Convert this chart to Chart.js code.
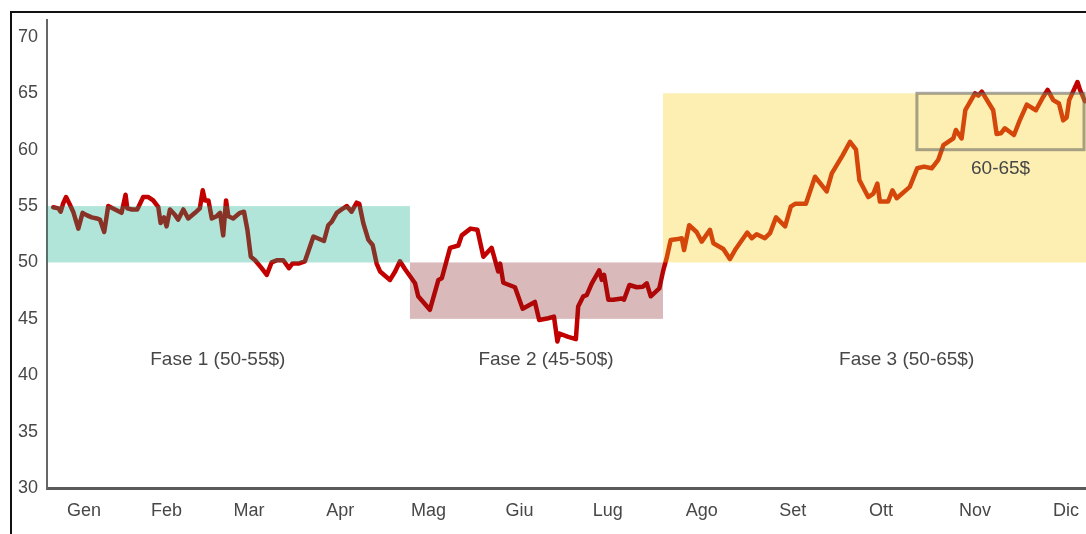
<!DOCTYPE html>
<html>
<head>
<meta charset="utf-8">
<script src="https://cdn.jsdelivr.net/npm/chart.js@4.4.1/dist/chart.umd.min.js"></script>
<style>
  html, body { margin: 0; padding: 0; background: #fff; }
  #wrap { position: relative; width: 1086px; height: 534px; overflow: hidden; }
  #frame { position: absolute; left: 10px; top: 11px; width: 1100px; height: 600px; border-left: 2px solid #111; border-top: 2px solid #111; }
  #chartBox { position: absolute; left: 0; top: 0; width: 1086px; height: 534px; }
</style>
</head>
<body>
<div id="wrap">
  <div id="frame"></div>
  <div id="chartBox"><canvas id="priceChart"></canvas></div>
</div>
<script>
// giorni dell'anno (0-365) e prezzi
const days = [
  2.2, 4.0, 4.8, 5.7, 6.7, 7.8, 9.2, 11.0, 12.5, 13.9, 15.7, 17.5, 18.6, 20.1, 21.5, 23.9, 26.2, 27.6, 28.2, 29.8,
  31.7, 33.8, 35.6, 37.3, 39.1, 39.9, 41.1, 42.0, 43.2, 45.0, 46.1, 47.9, 49.6, 52.0, 53.7, 54.7, 55.5, 56.7, 57.9, 59.6,
  60.8, 61.9, 62.9, 63.7, 65.4, 67.8, 69.2, 70.4, 71.6, 73.1, 75.4, 77.2, 78.9, 80.9, 83.0, 85.0, 86.2, 88.3, 90.6,
  93.6, 97.3, 98.8, 100.0, 101.8, 103.5, 105.3, 107.0, 108.8, 109.7, 111.1, 112.9, 114.4, 115.8, 117.0, 120.5, 122.3, 124.0, 125.8,
  129.3, 130.4, 134.5, 137.5, 138.7, 141.6, 144.5, 145.7, 148.8, 151.2, 153.3, 156.2, 158.5, 159.2, 160.3, 164.4, 167.1, 171.4, 172.9, 176.1,
  178.1, 179.3, 180.0, 183.1, 185.8, 186.6, 188.4, 189.6, 191.4, 194.0, 194.9, 195.7, 197.2, 198.9, 201.9, 202.7, 204.6, 207.2, 209.3, 210.7,
  212.1, 215.1, 216.5, 217.7, 219.1, 221.0, 223.0, 223.8, 225.6, 228.2,
  230.0, 232.9, 234.1, 237.6, 239.9, 241.7, 246.0, 247.6, 249.3, 252.2, 254.0, 256.1, 259.3, 261.3, 262.8, 266.6, 269.8, 273.9, 275.7, 279.5,
  282.1, 284.2, 285.4, 288.5, 290.3, 291.7, 292.6, 295.5, 297.0, 298.5, 303.1, 305.7, 308.1, 310.8, 313.1, 314.9, 318.4, 319.3, 321.3, 322.6,
  326.0, 327.2, 328.4, 332.4, 333.6, 335.1, 336.5, 339.7, 341.8, 344.2, 347.4, 350.0, 351.5, 353.5, 355.5, 357.0, 358.2, 359.1, 362.0, 362.9,
  364.6
];
const prices = [
  54.9, 54.8, 54.5, 55.25, 55.8, 55.25, 54.5, 53.0, 54.4, 54.2, 54.0, 53.9, 53.8, 52.7, 55.0, 54.7, 54.4, 56.0, 54.8, 54.7,
  54.7, 55.8, 55.8, 55.5, 54.9, 53.5, 54.0, 53.2, 54.7, 54.2, 53.8, 54.7, 53.9, 54.4, 54.8, 56.4, 55.5, 55.5, 53.9, 54.1,
  54.4, 52.4, 55.5, 54.1, 53.9, 54.4, 54.5, 52.9, 50.5, 50.2, 49.5, 48.9, 50.0, 50.2, 50.2, 49.5, 49.9, 49.9, 50.1,
  52.3, 51.9, 53.3, 53.6, 54.4, 54.7, 55.0, 54.5, 55.3, 55.2, 53.5, 52.0, 51.55, 49.9, 49.2, 48.45, 49.2, 50.1, 49.4,
  48.15, 47.0, 45.8, 48.45, 48.6, 51.3, 51.5, 52.4, 53.0, 52.9, 50.5, 51.3, 49.2, 49.9, 48.2, 47.8, 45.9, 46.5, 44.9, 45.05,
  45.2, 43.0, 43.7, 43.4, 43.2, 46.1, 47.0, 47.1, 48.15, 49.3, 48.45, 48.9, 46.7, 46.7, 46.8, 46.7, 48.0, 47.8, 47.85, 48.15,
  47.0, 47.7, 49.3, 50.4, 52.0, 52.05, 52.15, 51.1, 53.3, 52.7,
  51.85, 52.9, 51.7, 51.2, 50.3, 51.1, 52.65, 52.15, 52.5, 52.15, 52.6, 54.0, 53.2, 54.95, 55.2, 55.2, 57.6, 56.3, 57.9, 59.5,
  60.7, 60.0, 57.3, 55.8, 56.1, 57.0, 55.4, 55.4, 56.4, 55.7, 56.7, 58.35, 58.5, 58.35, 59.1, 60.4, 61.0, 61.75, 61.0, 63.5,
  65.0, 64.8, 65.15, 63.5, 61.4, 61.45, 61.9, 61.3, 62.65, 64.0, 63.5, 64.7, 65.3, 64.4, 64.1, 62.6, 62.85, 64.4, 66.0, 65.3,
  64.3
];

const monthLabels = ['Gen', 'Feb', 'Mar', 'Apr', 'Mag', 'Giu', 'Lug', 'Ago', 'Set', 'Ott', 'Nov', 'Dic'];
const monthDays = [13, 42, 71, 103, 134, 166, 197, 230, 262, 293, 326, 358];
const yTicks = [30, 35, 40, 45, 50, 55, 60, 65, 70];

// fasi: intervallo di giorni e fascia di prezzo
const phaseNames = ['Fase 1 (50-55$)', 'Fase 2 (45-50$)', 'Fase 3 (50-65$)'];
const phaseStart = [0, 127.5, 216.4];
const phaseEnd = [127.5, 216.4, 365];
const phaseLow = [50, 45, 50];
const phaseHigh = [55, 50, 65];
const phaseLabelDays = [60, 175.3, 302];
const phaseLabelPrice = 41.4;

// riquadro obiettivo 60-65$
const targetName = '60-65$';
const targetStart = 305.6;
const targetEnd = 364.3;
const targetLow = 60;
const targetHigh = 65;
const targetLabelDay = 335;
const targetLabelPrice = 58.3;

const phaseColors = ['rgba(0,168,128,0.3)', 'rgba(128,22,22,0.3)', 'rgba(249,205,28,0.34)'];
const textColor = '#474747';
const fontFamily = "'Liberation Sans', Arial, sans-serif";

const points = days.map((d, i) => ({ x: d, y: prices[i] }));

// i riquadri vanno sopra la linea, cosi' la colorano in trasparenza
const phaseBoxes = {
    id: 'phaseBoxes',
    afterDatasetsDraw(chart) {
        const { ctx, chartArea, scales: { x, y } } = chart;
        ctx.save();
        ctx.beginPath();
        ctx.rect(chartArea.left, chartArea.top, chartArea.width, chartArea.height);
        ctx.clip();

        phaseNames.forEach((name, i) => {
            const left = x.getPixelForValue(phaseStart[i]);
            const right = x.getPixelForValue(phaseEnd[i]);
            const top = y.getPixelForValue(phaseHigh[i]);
            const bottom = y.getPixelForValue(phaseLow[i]);
            ctx.fillStyle = phaseColors[i];
            ctx.fillRect(left, top, right - left, bottom - top);
        });

        const tl = x.getPixelForValue(targetStart);
        const tr = x.getPixelForValue(targetEnd);
        const tt = y.getPixelForValue(targetHigh);
        const tb = y.getPixelForValue(targetLow);
        ctx.strokeStyle = 'rgba(95,95,90,0.55)';
        ctx.lineWidth = 3;
        ctx.strokeRect(tl, tt, tr - tl, tb - tt);
        ctx.restore();

        ctx.save();
        ctx.fillStyle = textColor;
        ctx.font = '19px ' + fontFamily;
        ctx.textAlign = 'center';
        ctx.textBaseline = 'middle';
        phaseNames.forEach((name, i) => {
            ctx.fillText(name, x.getPixelForValue(phaseLabelDays[i]), y.getPixelForValue(phaseLabelPrice));
        });
        ctx.fillText(targetName, x.getPixelForValue(targetLabelDay), y.getPixelForValue(targetLabelPrice));
        ctx.restore();
    }
};

document.addEventListener('DOMContentLoaded', function () {
    const ctx = document.getElementById('priceChart');
    new Chart(ctx, {
        type: 'line',
        data: {
            datasets: [{
                data: points,
                borderColor: '#c20000',
                borderWidth: 4.5,
                pointRadius: 0,
                tension: 0,
                fill: false,
                borderJoinStyle: 'round',
                borderCapStyle: 'round'
            }]
        },
        options: {
            responsive: true,
            maintainAspectRatio: false,
            animation: false,
            layout: { padding: { top: 20, left: 0, right: 0, bottom: 0 } },
            plugins: {
                legend: { display: false },
                tooltip: { enabled: false }
            },
            scales: {
                x: {
                    type: 'linear',
                    min: 0,
                    max: 365,
                    grid: { display: false, drawTicks: false },
                    border: { display: true, color: '#5a5a5a', width: 3 },
                    afterBuildTicks: (axis) => { axis.ticks = monthDays.map(v => ({ value: v })); },
                    afterFit: (axis) => {
                        axis.height = 46;
                        axis.paddingLeft = 0;
                        axis.paddingRight = 0;
                    },
                    ticks: {
                        autoSkip: false,
                        maxRotation: 0,
                        padding: 12,
                        color: textColor,
                        font: { family: fontFamily, size: 18 },
                        callback: (value, index) => monthLabels[index]
                    }
                },
                y: {
                    min: 30,
                    max: 71.5,
                    grid: { display: false, drawTicks: false },
                    border: { display: true, color: '#666', width: 2 },
                    afterBuildTicks: (axis) => { axis.ticks = yTicks.map(v => ({ value: v })); },
                    afterFit: (axis) => {
                        axis.width = 47;
                        axis.paddingTop = 0;
                        axis.paddingBottom = 0;
                    },
                    ticks: {
                        padding: 9,
                        color: textColor,
                        font: { family: fontFamily, size: 18 }
                    }
                }
            }
        },
        plugins: [phaseBoxes]
    });
});
</script>
</body>
</html>
